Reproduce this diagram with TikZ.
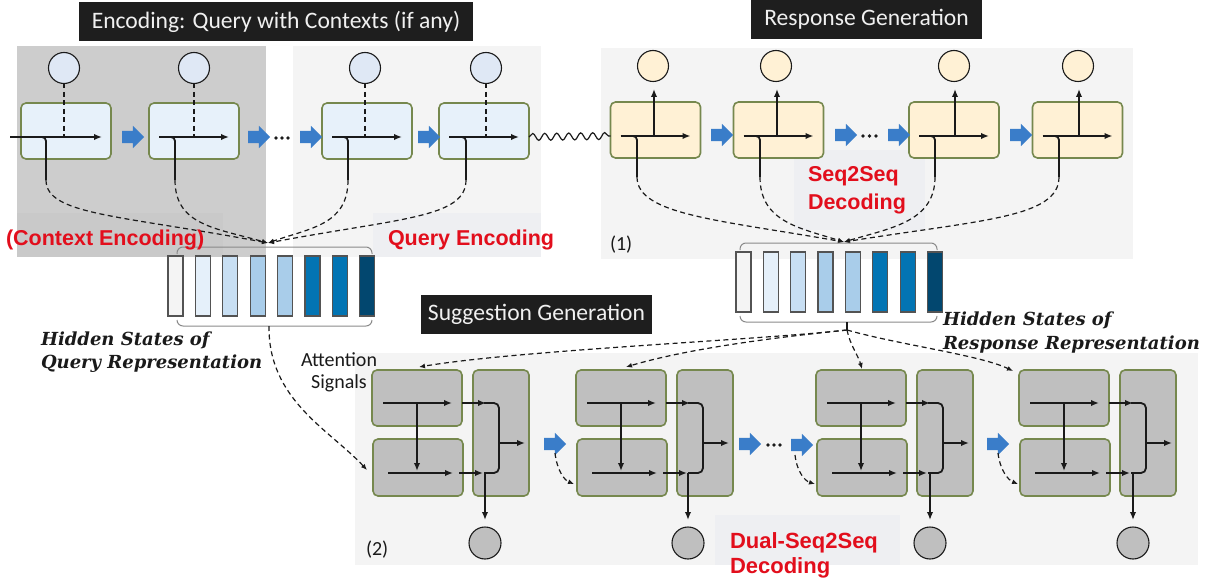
\documentclass[tikz,border=0pt]{standalone}
\usepackage{fontspec}
\setmainfont{Carlito}
\newfontfamily\redfont{Liberation Sans}
\newfontfamily\statefont{DejaVu Serif}
\usetikzlibrary{shapes.arrows,decorations.pathmorphing,arrows.meta,calc}

\definecolor{panelDark}{HTML}{CDCDCD}
\definecolor{panelShade}{HTML}{C9C9C9}
\definecolor{panelLight}{HTML}{F4F4F4}
\definecolor{tagBox}{HTML}{EEEFF2}
\definecolor{titleBg}{HTML}{1E1E1E}
\definecolor{titleText}{HTML}{F0F0F0}
\definecolor{cellEdge}{HTML}{76884E}
\definecolor{encFill}{HTML}{E7F1FA}
\definecolor{encDot}{HTML}{DFE8F5}
\definecolor{decFill}{HTML}{FFF1D5}
\definecolor{sugFill}{HTML}{BFBFBF}
\definecolor{flowBlue}{HTML}{3A7DC9}
\definecolor{labelRed}{HTML}{E20E1C}
\definecolor{inkDark}{HTML}{1A1A1A}
\definecolor{braceGray}{HTML}{8A8A8A}
\definecolor{hA}{HTML}{F4F4F4}
\definecolor{hB}{HTML}{E5F0FA}
\definecolor{hC}{HTML}{C8DFF3}
\definecolor{hD}{HTML}{A9CDEA}
\definecolor{hE}{HTML}{A9CDEA}
\definecolor{hF}{HTML}{0274B3}
\definecolor{hG}{HTML}{0274B3}
\definecolor{hH}{HTML}{02476F}

\begin{document}
\begin{tikzpicture}[x=1pt,y=-1pt,
  every node/.style={inner sep=0pt,outer sep=0pt},
  titlebox/.style={fill=titleBg,text=titleText,font=\fontsize{23.6}{28}\selectfont,minimum height=39pt},
  enccell/.style={draw=cellEdge,line width=1.6pt,fill=encFill,rounded corners=5pt,minimum width=90pt,minimum height=56pt},
  deccell/.style={enccell,fill=decFill},
  sugcell/.style={enccell,fill=sugFill},
  encdot/.style={circle,draw=inkDark,line width=1.1pt,fill=encDot,minimum size=31pt},
  decdot/.style={encdot,fill=decFill},
  sugdot/.style={encdot,fill=sugFill,minimum size=32pt},
  blockarrow/.style={single arrow,fill=flowBlue,draw=none,inner xsep=0pt,inner ysep=6pt,minimum height=22pt,single arrow head extend=5pt},
  flowline/.style={draw=inkDark,line width=1.8pt,-{Latex[length=8pt,width=6.5pt]}},
  plainline/.style={draw=inkDark,line width=1.8pt},
  dashline/.style={draw=inkDark,line width=1.2pt,dash pattern=on 5pt off 3.5pt},
  dasharrow/.style={dashline,-{Latex[length=6pt,width=5pt]}},
  hbar/.style={draw=inkDark!75,line width=1.2pt,minimum width=15pt,minimum height=60pt},
  bracket/.style={draw=braceGray,line width=1pt,rounded corners=6pt},
  redlabel/.style={font=\redfont\bfseries\fontsize{21.5}{24}\selectfont,text=labelRed},
  statelabel/.style={font=\statefont\bfseries\itshape\fontsize{18}{22}\selectfont,text=inkDark},
  plainlabel/.style={font=\fontsize{20}{24}\selectfont,text=inkDark}
]
\useasboundingbox (0,0) rectangle (1207,580);

% background panels
\fill[panelDark] (17,46) rectangle (266,257);
\fill[panelLight] (293,46) rectangle (541,257);
\fill[panelLight] (601,48) rectangle (1133,259);
\fill[panelLight] (355,353) rectangle (1198,565);
\fill[panelShade] (17,213) rectangle (223,257);
\fill[tagBox] (373,213) rectangle (541,257);
\fill[tagBox] (794,150) rectangle (925,230);
\fill[tagBox] (715,515) rectangle (900,565);

% section titles
\node[titlebox,minimum width=394pt] (enctitle) at (276,21.5) {Encoding: Query with Contexts (if any)};
\node[titlebox,minimum width=231pt] (restitle) at (866.5,19.5) {Response Generation};
\node[titlebox,minimum width=231pt] (sugtitle) at (536.5,314.5) {Suggestion Generation};

% ---------- encoder ----------
\foreach \i/\cx/\dx/\ax/\bx/\vx in {1/66/64/10/102/46,2/194/194/159/229/175,3/367/365/332/402/348,4/484/486/449/519/466}{
  \node[enccell] (enc\i) at (\cx,131) {};
  \node[encdot] (encout\i) at (\dx,68) {};
  \draw[dashline] (encout\i.south) -- (\dx,137);
  \draw[flowline] (\ax,137) -- (\bx,137);
  \draw[plainline,rounded corners=4pt] (\vx-7,137) -| (\vx,180);
  \coordinate (encfoot\i) at (\vx,180);
}
\node[blockarrow] (ea1) at (130,137) {};
\node[blockarrow] (ea2) at (256,137) {};
\node[blockarrow] (ea3) at (308,137) {};
\node[blockarrow] (ea4) at (426,137) {};
\foreach \x in {276,282,288} \fill[inkDark] (\x,138) circle (1.9pt);

\coordinate (qjoin) at (268,243);
\draw[dasharrow] (encfoot1) .. controls (46,215) and (120,215) .. (qjoin);
\draw[dasharrow] (encfoot2) .. controls (175,225) and (215,228) .. (qjoin);
\draw[dasharrow] (encfoot3) .. controls (348,225) and (310,228) .. (qjoin);
\draw[dasharrow] (encfoot4) .. controls (466,218) and (400,218) .. (qjoin);

% hidden states of the query
\foreach \j/\c in {1/hA,2/hB,3/hC,4/hD,5/hE,6/hF,7/hG,8/hH}
  \node[hbar,fill=\c] (qbar\j) at ({175.5+27.4*(\j-1)},286) {};
\draw[bracket] (177,254) |- (272,247) -| (372,254);
\draw[bracket] (177,320) |- (272,326) -| (372,320);
\coordinate (qfoot) at (269,326);

% ---------- response decoder ----------
\foreach \i/\cx/\dx/\vx in {1/655.5/653/637,2/778.5/776/760,3/954/954/935,4/1077.5/1078/1059}{
  \node[deccell] (dec\i) at (\cx,130) {};
  \node[decdot] (decout\i) at (\dx,66) {};
  \draw[flowline] (\cx-35,136) -- (\cx+35,136);
  \draw[flowline] (\dx+1,136) -- (\dx+1,89);
  \draw[plainline,rounded corners=4pt] (\vx-7,136) -| (\vx,177);
  \coordinate (decfoot\i) at (\vx,177);
}
\draw[decorate,decoration={snake,amplitude=3.5pt,segment length=12pt},draw=inkDark,line width=1.2pt]
  ($(enc4.east)+(0,6)$) -- ($(dec1.west)+(0,6)$);
\node[blockarrow] (da1) at (719,135) {};
\node[blockarrow] (da2) at (843,135) {};
\node[blockarrow] (da3) at (896,135) {};
\node[blockarrow] (da4) at (1018,135) {};
\foreach \x in {863,869.5,876} \fill[inkDark] (\x,136) circle (1.9pt);

\coordinate (rjoin) at (844,242);
\draw[dasharrow] (decfoot1) .. controls (637,215) and (720,220) .. (rjoin);
\draw[dasharrow] (decfoot2) .. controls (760,222) and (800,228) .. (rjoin);
\draw[dasharrow] (decfoot3) .. controls (935,222) and (890,228) .. (rjoin);
\draw[dasharrow] (decfoot4) .. controls (1059,218) and (980,220) .. (rjoin);

% hidden states of the response
\foreach \j/\c in {1/hA,2/hB,3/hC,4/hD,5/hE,6/hF,7/hG,8/hH}
  \node[hbar,fill=\c] (rbar\j) at ({743.5+27.35*(\j-1)},282) {};
\draw[bracket] (740,250) |- (840,243) -| (937,250);
\draw[bracket] (740,316) |- (840,322) -| (937,316);
\draw[inkDark,line width=1.2pt] (847,322) -- (847,330);
\coordinate (rfoot) at (847,330);

% ---------- suggestion decoder ----------
\foreach \i/\X/\ox in {1/372/485,2/576/688,3/816/930,4/1019/1133}{
  \node[sugcell] (sugtop\i) at (\X+45,398) {};
  \node[sugcell,minimum height=57pt] (sugbot\i) at (\X+46,467.5) {};
  \node[sugcell,minimum width=56pt,minimum height=126pt] (sugmix\i) at (\X+129,433) {};
  \node[sugdot] (sugout\i) at (\ox,543) {};
  \draw[flowline] (\X+11,403) -- (\X+80,403);
  \draw[flowline] (\X+45,403) -- (\X+45,471);
  \draw[flowline] (\X+16,473) -- (\X+81,473);
  \draw[flowline] (\X+90,403) -- (\X+114,403);
  \draw[flowline] (\X+87,473) -- (\X+111,473);
  \draw[plainline,rounded corners=5pt] (\X+112,403) -| (\X+127,473) -- (\X+112,473);
  \draw[flowline] (\X+127,443) -- (\X+153,443);
  \draw[flowline] (\ox,473) -- ($(sugout\i.north)+(0,-7)$);
}
\node[blockarrow] (sa1) at (552,444) {};
\node[blockarrow] (sa2) at (747,444) {};
\node[blockarrow] (sa3) at (799,445) {};
\node[blockarrow] (sa4) at (995,444) {};
\foreach \x in {768,774,780} \fill[inkDark] (\x,445) circle (1.9pt);

% attention signals from the response states
\coordinate (att1) at (419,367);
\coordinate (att2) at (626,367);
\coordinate (att3) at (862,369);
\coordinate (att4) at (1013,371);
\draw[dasharrow] (rfoot) .. controls (760,340) and (520,350) .. (att1);
\draw[dasharrow] (rfoot) .. controls (810,334) and (700,345) .. (att2);
\draw[dasharrow] (rfoot) .. controls (850,345) and (858,355) .. (att3);
\draw[dasharrow] (rfoot) .. controls (900,345) and (980,355) .. (att4);

% attention signals from the query states
\coordinate (qatt) at (367,470);
\draw[dasharrow] (qfoot) .. controls (268,400) and (330,430) .. (qatt);

% state passing between suggestion steps
\coordinate (pass2s) at (555,453); \coordinate (pass2e) at (574,484);
\coordinate (pass3s) at (795,455); \coordinate (pass3e) at (815,484);
\coordinate (pass4s) at (998,453); \coordinate (pass4e) at (1018,484);
\draw[dasharrow] (pass2s) .. controls (557,470) and (564,480) .. (pass2e);
\draw[dasharrow] (pass3s) .. controls (797,472) and (805,481) .. (pass3e);
\draw[dasharrow] (pass4s) .. controls (1000,470) and (1008,480) .. (pass4e);

% ---------- labels ----------
\node[redlabel,anchor=base west] (ctxlabel) at (6,245) {(Context Encoding)};
\node[redlabel,anchor=base west] (qlabel) at (388,245) {Query Encoding};
\node[redlabel,anchor=base west] (s2sA) at (808,182) {Seq2Seq};
\node[redlabel,anchor=base west] (s2sB) at (808,210) {Decoding};
\node[redlabel,anchor=base west,font=\redfont\bfseries\fontsize{22}{24}\selectfont] (dualA) at (730,548) {Dual-Seq2Seq};
\node[redlabel,anchor=base west,font=\redfont\bfseries\fontsize{22}{24}\selectfont] (dualB) at (730,573) {Decoding};

\node[statelabel,anchor=base west] (qstateA) at (41,345) {Hidden States of};
\node[statelabel,anchor=base west] (qstateB) at (41,368) {Query Representation};
\node[statelabel,anchor=base west] (rstateA) at (943,325) {Hidden States of};
\node[statelabel,anchor=base west] (rstateB) at (943,349) {Response Representation};

\node[plainlabel,anchor=base] (attA) at (339,366) {Attention};
\node[plainlabel,anchor=base] (attB) at (339,388) {Signals};
\node[plainlabel,anchor=base west] (tag1) at (610,250) {(1)};
\node[plainlabel,anchor=base west] (tag2) at (366,555) {(2)};
\end{tikzpicture}
\end{document}
